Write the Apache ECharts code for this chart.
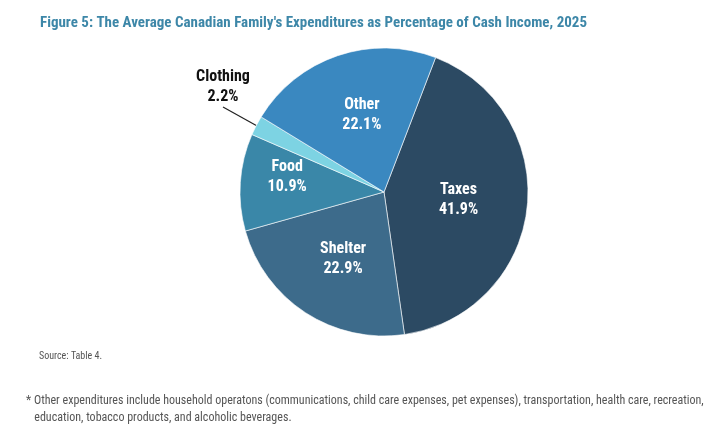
<!DOCTYPE html>
<html lang="en">
  <head>
    <meta charset="UTF-8" />
    <title>Figure 5</title>
    <script src="https://cdn.jsdelivr.net/npm/echarts@6/dist/echarts.min.js"></script>
  </head>
  <style>
    html,
    body {
      margin: 0;
      padding: 0;
      background: #fff;
    }
    #echart {
      width: 713px;
      height: 448px;
    }
  </style>
  <body>
    <div id="echart"></div>
  </body>
  <script>
    const categories = ["Taxes", "Shelter", "Food", "Clothing", "Other"];
    const shares = [41.9, 22.9, 10.9, 2.2, 22.1];
    const colors = ["#2c4a63", "#3d6b8b", "#3a87a8", "#7dd3e3", "#3a88c0"];

    const narrow = '"Roboto Condensed", "Liberation Sans Narrow", "DejaVu Sans Condensed", "Noto Sans", sans-serif';

    const chart = echarts.init(document.getElementById("echart"));

    const data = categories.map((name, i) => {
      const item = {
        name: name,
        value: shares[i],
        itemStyle: { color: colors[i] },
      };
      if (name === "Clothing") {
        item.label = {
          position: "outside",
          color: "#111",
          fontSize: 16,
        };
        item.labelLine = { show: true, length: 14, length2: 0, lineStyle: { color: "#222", width: 1.2 } };
      }
      if (name === "Food") {
        item.label = { offset: [-22, -10] };
      }
      if (name === "Other") {
        item.label = { offset: [2, -6] };
      }
      if (name === "Shelter") {
        item.label = { offset: [0, 4] };
      }
      return item;
    });

    var option = {
      backgroundColor: "#fff",
      title: [
        {
          text: "Figure 5: The Average Canadian Family's Expenditures as Percentage of Cash Income, 2025",
          left: 35,
          top: 11,
          textStyle: { color: "#3d87a8", fontSize: 15, fontWeight: "bold", fontFamily: narrow },
        },
        {
          text: "Source: Table 4.",
          left: 34,
          top: 346,
          textStyle: { color: "#555", fontSize: 10, fontWeight: "normal", fontFamily: narrow },
        },
        {
          text:
            "* Other expenditures include household operatons (communications, child care expenses, pet expenses), transportation, health care, recreation,\n   education, tobacco products, and alcoholic beverages.",
          left: 21,
          top: 387,
          textStyle: { color: "#555", fontSize: 12, fontWeight: "normal", fontFamily: narrow, lineHeight: 17 },
        },
      ],
      series: [
        {
          type: "pie",
          center: [384, 192],
          radius: 144,
          startAngle: 69,
          clockwise: true,
          animation: false,
          itemStyle: { borderColor: "#fff", borderWidth: 0.6 },
          label: {
            show: true,
            position: "inside",
            formatter: (p) => p.name + "\n" + p.value.toFixed(1) + "%",
            color: "#fff",
            fontSize: 16,
            fontWeight: "bold",
            lineHeight: 20,
            fontFamily: narrow,
          },
          labelLine: { show: false },
          // pull the Clothing label up above the slice like the original callout
          labelLayout: (p) => (p.dataIndex === 3 ? { x: 223, y: 87, align: "center", verticalAlign: "middle" } : {}),
          data: data,
        },
      ],
    };
    chart.setOption(option);
  </script>
</html>
